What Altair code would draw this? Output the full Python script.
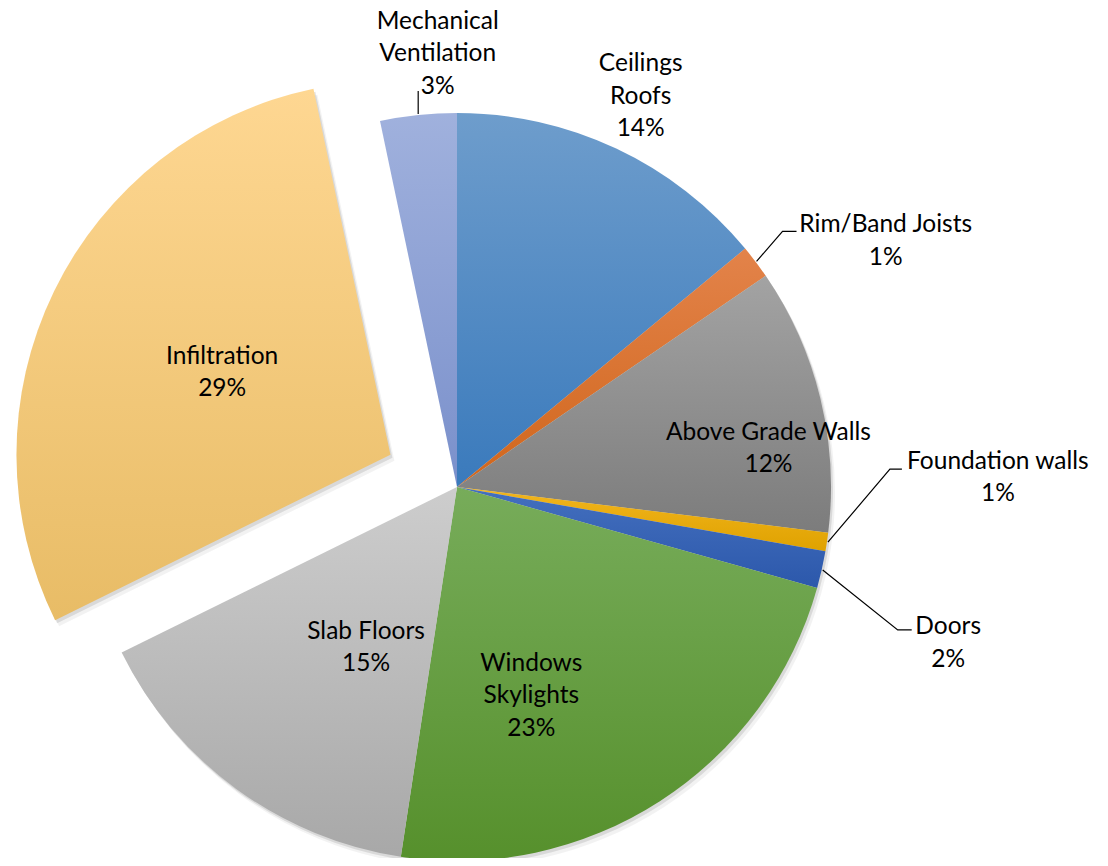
import math
import altair as alt
import pandas as pd

# ---------------- data ----------------
names = [
    "Ceilings Roofs", "Rim/Band Joists", "Above Grade Walls", "Foundation walls",
    "Doors", "Windows Skylights", "Slab Floors", "Infiltration", "Mechanical Ventilation",
]
label_lines = [
    ["Ceilings", "Roofs"], ["Rim/Band Joists"], ["Above Grade Walls"], ["Foundation walls"],
    ["Doors"], ["Windows", "Skylights"], ["Slab Floors"], ["Infiltration"], ["Mechanical", "Ventilation"],
]
values = [14.0, 1.45, 11.5, 0.8, 1.6, 23.05, 15.3, 29.0, 3.3]

# ---------------- style / layout ----------------
top_colors = ["#6E9DCC", "#E3834A", "#A3A3A3", "#F2B51E", "#4470BF", "#77AC5A", "#CDCDCD", "#FED792", "#A0B1DD"]
bottom_colors = ["#3A7ABC", "#D0661C", "#7C7C7C", "#DFA200", "#2C58AB", "#56902C", "#A8A8A8", "#E8BC66", "#7A90CB"]

W, H = 1092, 850          # whole chart (padding 0)
CX, CY = 449, 479         # pie centre inside chart
R = 374                   # outer radius
EXPLODE = {"Infiltration": 74}
FONT, FS, LH, TEXT_DY = "Lato", 24.5, 32.5, 2

# label block centre: radius (px) and angle shift (deg) from slice mid-angle
label_r = [433, 495, 314, 541, 515, 220, 183, 262, 435]
label_shift_deg = [-0.1, 7.0, 6.4, -9.6, 4.7, 13.1, -6.4, 0.4, 3.4]
# leader lines: elbow offset from slice edge, then horizontal tail
leaders = {
    "Rim/Band Joists": ((26, -30), 14),
    "Foundation walls": ((62, -73), 12),
    "Doors": ((75, 60), 14),
    "Mechanical Ventilation": ((0, -23), 0),
}

# ---------------- derived tables ----------------
total = sum(values)
ends = []
acc = 0.0
for v in values:
    acc += v
    ends.append(acc / total * 100)
starts = [e - v / total * 100 for e, v in zip(ends, values)]
mids = [(s + e) / 2 for s, e in zip(starts, ends)]

df = pd.DataFrame({"name": names, "value": values, "start": starts, "end": ends})
theta_scale = alt.Scale(domain=[0, 100], range=[0, 2 * math.pi])


def centre(i, name):
    off = EXPLODE.get(name, 0)
    a = mids[i] / 100 * 2 * math.pi
    return CX + off * math.sin(a), CY - off * math.cos(a)


base = alt.Chart(df)
layers = []

# soft shadow
for dx, dy, op in [(2, 3, 0.10), (4, 6, 0.05)]:
    for i, n in enumerate(names):
        x, y = centre(i, n)
        layers.append(
            base.transform_filter(alt.datum.name == n)
            .mark_arc(outerRadius=R, x=x + dx, y=y + dy, fill="#000000", opacity=op, strokeWidth=0)
            .encode(theta=alt.Theta("start:Q", scale=theta_scale, stack=None), theta2="end:Q")
        )

for i, n in enumerate(names):
    x, y = centre(i, n)
    grad = alt.LinearGradient(
        gradient="linear",
        stops=[alt.GradientStop(color=top_colors[i], offset=0),
               alt.GradientStop(color=bottom_colors[i], offset=1)],
        x1=0, x2=0, y1=0, y2=1,
    )
    layers.append(
        base.transform_filter(alt.datum.name == n)
        .mark_arc(outerRadius=R, x=x, y=y, fill=grad, strokeWidth=0)
        .encode(theta=alt.Theta("start:Q", scale=theta_scale, stack=None), theta2="end:Q")
    )

# labels (Vega anchors the first line; move the anchor up so the block is centred)
pct = [f"{v / total * 100:.0f}%" for v in values]
lines_all = [ll + [p] for ll, p in zip(label_lines, pct)]
lab_theta, lab_r = [], []
for m, s, r, ln in zip(mids, label_shift_deg, label_r, lines_all):
    a = (m / 100 * 360 + s) * math.pi / 180
    bx, by = r * math.sin(a), -r * math.cos(a)
    by -= (len(ln) - 1) * LH / 2
    rr = math.hypot(bx, by)
    aa = math.atan2(bx, -by) % (2 * math.pi)
    lab_theta.append(aa / (2 * math.pi) * 100)
    lab_r.append(rr)

text_df = pd.DataFrame({"name": names, "lines": lines_all, "lab_theta": lab_theta, "lab_r": lab_r})
labels = alt.Chart(text_df).mark_text(
    x=CX, y=CY, dy=TEXT_DY, font=FONT, fontSize=FS, lineHeight=LH,
    align="center", baseline="middle", color="#000000"
).encode(
    theta=alt.Theta("lab_theta:Q", scale=theta_scale, stack=None),
    radius=alt.Radius("lab_r:Q", scale=None),
    text="lines:N",
)

# leader lines
rows = []
for i, n in enumerate(names):
    if n not in leaders:
        continue
    (ex, ey), tail = leaders[n]
    a = mids[i] / 100 * 2 * math.pi
    sx, sy = CX + (R + 1) * math.sin(a), CY - (R + 1) * math.cos(a)
    pts = [(sx, sy), (sx + ex, sy + ey)]
    if tail:
        pts.append((sx + ex + tail, sy + ey))
    for k, (px, py) in enumerate(pts):
        rows.append({"name": n, "ord": k, "px": px, "py": py})
lead_df = pd.DataFrame(rows)
lead = alt.Chart(lead_df).mark_line(color="#000000", strokeWidth=1.2).encode(
    x=alt.X("px:Q", scale=None, axis=None),
    y=alt.Y("py:Q", scale=None, axis=None),
    detail="name:N",
    order="ord:Q",
)

chart = alt.layer(*layers, lead, labels).properties(
    width=W, height=H, padding=0, autosize=alt.AutoSizeParams(type="none")
).configure_view(strokeWidth=0)

chart.save("out.html", embed_options={"renderer": "svg", "actions": False})
